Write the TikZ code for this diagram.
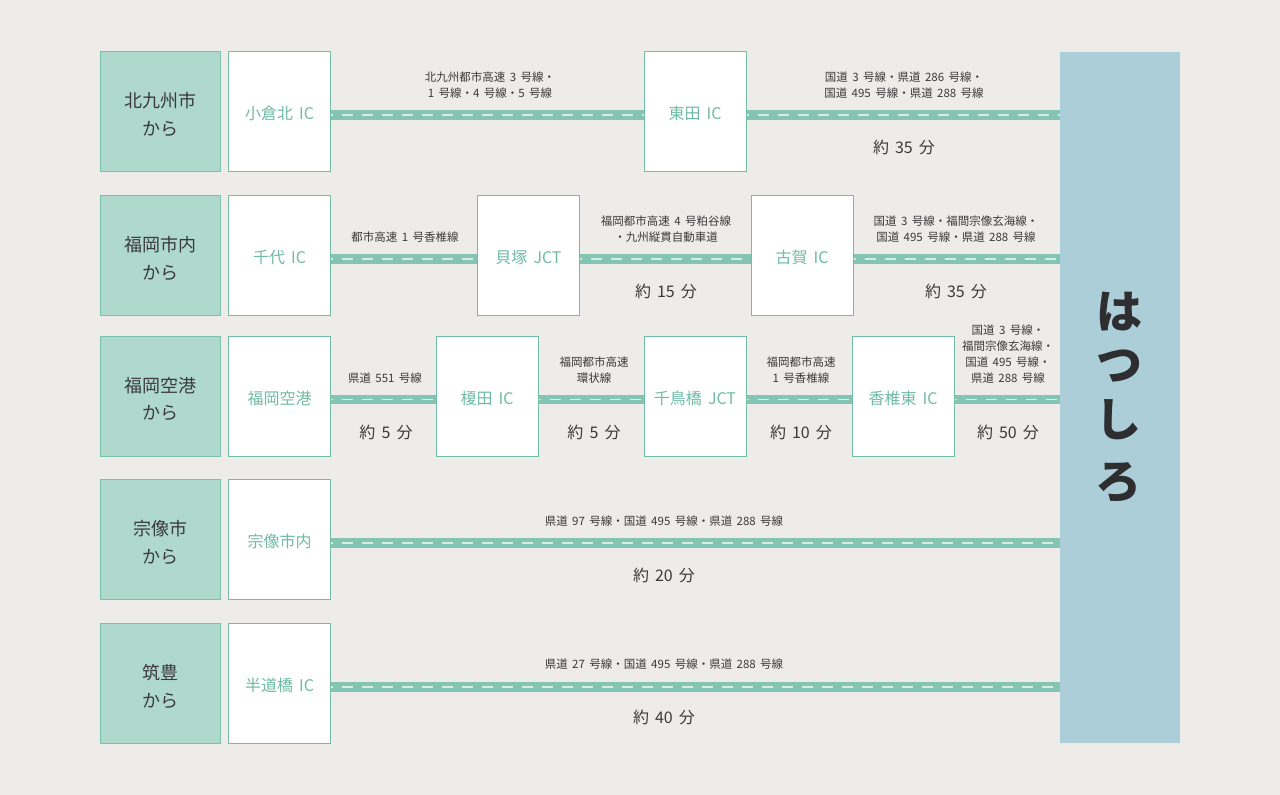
\documentclass[tikz,border=0pt]{standalone}
\usepackage{fontspec}
\setmainfont[WordSpace=1.7]{Noto Sans CJK JP}
\definecolor{bgc}{HTML}{EDECE8}
\definecolor{roadc}{HTML}{84C4B2}
\definecolor{greenc}{HTML}{B0D9CE}
\definecolor{edgec}{HTML}{72BDA8}
\definecolor{panelc}{HTML}{ACCED9}
\definecolor{inkc}{HTML}{3A3A3A}
\definecolor{logoc}{HTML}{2E2E30}
\definecolor{dashc}{HTML}{D8ECE6}
\definecolor{labc}{HTML}{6FBBA6}
\tikzset{
  x=1pt,y=-1pt,
  origin/.style={draw=edgec!85!greenc,line width=1pt,fill=greenc,minimum width=120pt,minimum height=120pt,inner sep=0pt},
  originlab/.style={align=center,text=inkc,inner sep=0pt,yshift=-3pt,font=\fontsize{18}{27.5}\selectfont},
  ic/.style={draw=edgec,line width=1pt,fill=white,minimum width=102pt,minimum height=120pt,inner sep=0pt,text=labc,text height=20pt,text depth=4pt,font=\fontsize{16}{20}\selectfont},
  small/.style={align=center,text=inkc,inner sep=0pt,font=\fontsize{11.5}{16}\selectfont},
  time/.style={text=inkc,inner sep=0pt,font=\fontsize{16}{20}\selectfont},
  logo/.style={text=logoc,inner sep=0pt,font=\fontsize{46}{50}\bfseries\selectfont},
  roadbase/.style={draw=roadc,line width=9.5pt},
  roaddash/.style={draw=dashc,line width=1.3pt,dash pattern=on 11pt off 9pt,dash phase=9pt},
}
\newcommand{\roadline}[2]{%
  \coordinate (ra) at ([yshift=-3.5pt]#1.east);
  \draw[roadbase] (ra) -- (#2.west |- ra);
  \draw[roaddash] (ra) -- (#2.west |- ra);
}
\begin{document}
\begin{tikzpicture}
\useasboundingbox[fill=bgc] (0,0) rectangle (1280,795);
% panel
\node[fill=panelc,minimum width=120pt,minimum height=691pt,inner sep=0pt] (panel) at (1120,397.5) {};
% origins
\node[origin,label={[originlab]center:北九州市\\から}] (o1) at (160,111.5) {};
\node[origin,label={[originlab]center:福岡市内\\から}] (o2) at (160,255.5) {};
\node[origin,label={[originlab]center:福岡空港\\から}] (o3) at (160,396) {};
\node[origin,label={[originlab]center:宗像市\\から}] (o4) at (160,539.5) {};
\node[origin,label={[originlab]center:筑豊\\から}] (o5) at (160,683.5) {};
% IC boxes
\node[ic] (a1) at (279.5,111.5) {小倉北 IC};
\node[ic] (a2) at (695,111.5) {東田 IC};
\node[ic] (b1) at (279.5,255.5) {千代 IC};
\node[ic] (b2) at (528.5,255.5) {貝塚 JCT};
\node[ic] (b3) at (802,255.5) {古賀 IC};
\node[ic] (c1) at (279.5,396) {福岡空港};
\node[ic] (c2) at (487,396) {榎田 IC};
\node[ic] (c3) at (695,396) {千鳥橋 JCT};
\node[ic] (c4) at (903,396) {香椎東 IC};
\node[ic] (d1) at (279.5,539.5) {宗像市内};
\node[ic] (e1) at (279.5,683.5) {半道橋 IC};
% roads
\roadline{a1}{a2}
\roadline{a2}{panel}
\roadline{b1}{b2}
\roadline{b2}{b3}
\roadline{b3}{panel}
\roadline{c1}{c2}
\roadline{c2}{c3}
\roadline{c3}{c4}
\roadline{c4}{panel}
\roadline{d1}{panel}
\roadline{e1}{panel}
% road labels
\node[small] (l1) at (490,85) {北九州都市高速 3 号線・\\1 号線・4 号線・5 号線};
\node[small] (l2) at (904,85) {国道 3 号線・県道 286 号線・\\国道 495 号線・県道 288 号線};
\node[small] (l3) at (405,237) {都市高速 1 号香椎線};
\node[small] (l4) at (666,229) {福岡都市高速 4 号粕谷線\\・九州縦貫自動車道};
\node[small] (l5) at (956,229) {国道 3 号線・福間宗像玄海線・\\国道 495 号線・県道 288 号線};
\node[small] (l6) at (385,378) {県道 551 号線};
\node[small] (l7) at (594,370) {福岡都市高速\\環状線};
\node[small] (l8) at (801,370) {福岡都市高速\\1 号香椎線};
\node[small] (l9) at (1008,354) {国道 3 号線・\\福間宗像玄海線・\\国道 495 号線・\\県道 288 号線};
\node[small] (l10) at (664,521) {県道 97 号線・国道 495 号線・県道 288 号線};
\node[small] (l11) at (664,664) {県道 27 号線・国道 495 号線・県道 288 号線};
% times
\node[time] (t1) at (904,147) {約 35 分};
\node[time] (t2) at (666,291) {約 15 分};
\node[time] (t3) at (956,291) {約 35 分};
\node[time] (t4) at (386,432) {約 5 分};
\node[time] (t5) at (594,432) {約 5 分};
\node[time] (t6) at (801,432) {約 10 分};
\node[time] (t7) at (1008,432) {約 50 分};
\node[time] (t8) at (664,575) {約 20 分};
\node[time] (t9) at (664,717) {約 40 分};
% logo
\node[logo] (k1) at (1119,312) {は};
\node[logo] (k2) at (1119,366) {つ};
\node[logo] (k3) at (1118,420) {し};
\node[logo] (k4) at (1118,483) {ろ};
\end{tikzpicture}
\end{document}
